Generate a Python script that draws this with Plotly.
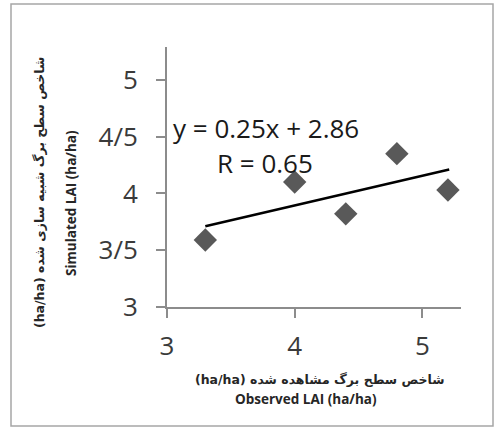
import plotly.graph_objects as go

# Data
observed = [3.30, 4.00, 4.40, 4.80, 5.20]
simulated = [3.59, 4.10, 3.82, 4.35, 4.03]
trend_x = [3.30, 5.21]
trend_y = [3.71, 4.21]

x_ticks = [3, 4, 5]
x_tick_text = ["3", "4", "5"]
y_ticks = [3, 3.5, 4, 4.5, 5]
y_tick_text = ["3", "3/5", "4", "4/5", "5"]

equation_text = "y = 0.25x + 2.86"
r_text = "R = 0.65"
x_title_fa = "(ha/ha) شاخص سطح برگ مشاهده شده"
x_title_en = "Observed LAI (ha/ha)"
y_title_fa = "(ha/ha) شاخص سطح برگ شبیه سازی شده"
y_title_en = "Simulated LAI (ha/ha)"

W, H = 494, 428
L, R, T, B = 167, 33, 47, 121
PW, PH = W - L - R, H - T - B


def px(xpix):
    return (xpix - L) / PW


def py(ypix):
    return (H - B - ypix) / PH


fig = go.Figure()
fig.add_trace(go.Scatter(
    x=trend_x, y=trend_y, mode="lines",
    line=dict(color="black", width=2.5), hoverinfo="skip", showlegend=False))
fig.add_trace(go.Scatter(
    x=observed, y=simulated, mode="markers",
    marker=dict(symbol="diamond", size=18, color="#595959"),
    showlegend=False))

axis_common = dict(
    showgrid=False, zeroline=False, showline=True, linecolor="#8c8c8c",
    linewidth=2, ticks="outside", tickcolor="#8c8c8c", tickwidth=2,
    ticklen=9, tickfont=dict(family="Open Sans", size=26, color="#3a3a3a"),
)

fig.update_xaxes(range=[3, 3 + PW / 127.7], tickvals=x_ticks,
                 ticktext=x_tick_text, ticklabelstandoff=6, **axis_common)
fig.update_yaxes(range=[3, 3 + PH / 113.6], tickvals=y_ticks,
                 ticktext=y_tick_text, ticklabelstandoff=13, **axis_common)

ann = []
ann.append(dict(x=px(266), y=py(128), text=equation_text, showarrow=False,
                font=dict(family="Open Sans", size=26, color="#1a1a1a"),
                xanchor="center", yanchor="middle"))
ann.append(dict(x=px(265), y=py(163), text=r_text, showarrow=False,
                font=dict(family="Open Sans", size=26, color="#1a1a1a"),
                xanchor="center", yanchor="middle"))
ann.append(dict(x=px(320), y=py(379), text="<b>" + x_title_fa + "</b>",
                showarrow=False,
                font=dict(family="DejaVu Sans", size=12.5, color="#262626"),
                xanchor="center", yanchor="middle"))
ann.append(dict(x=px(306), y=py(399), text="<b>" + x_title_en + "</b>",
                showarrow=False,
                font=dict(family="Open Sans", size=13.5, color="#262626"),
                xanchor="center", yanchor="middle"))
ann.append(dict(x=px(39), y=py(193), text="<b>" + y_title_fa + "</b>",
                showarrow=False, textangle=-90,
                font=dict(family="DejaVu Sans", size=12.5, color="#262626"),
                xanchor="center", yanchor="middle"))
ann.append(dict(x=px(71), y=py(203), text="<b>" + y_title_en + "</b>",
                showarrow=False, textangle=-90,
                font=dict(family="Open Sans", size=13.5, color="#262626"),
                xanchor="center", yanchor="middle"))
for a in ann:
    a["xref"] = "paper"
    a["yref"] = "paper"

fig.update_layout(
    width=W, height=H,
    margin=dict(l=L, r=R, t=T, b=B),
    paper_bgcolor="white", plot_bgcolor="white",
    annotations=ann,
    shapes=[dict(type="rect", xref="paper", yref="paper",
                 x0=px(11), x1=px(493), y0=py(426), y1=py(4),
                 line=dict(color="#a6a6a6", width=1.5), layer="below")],
)

fig.write_html("out.html",
               config={"displayModeBar": False},
               post_script="document.body.style.margin='0';"
                           "document.body.style.overflow='hidden';")
